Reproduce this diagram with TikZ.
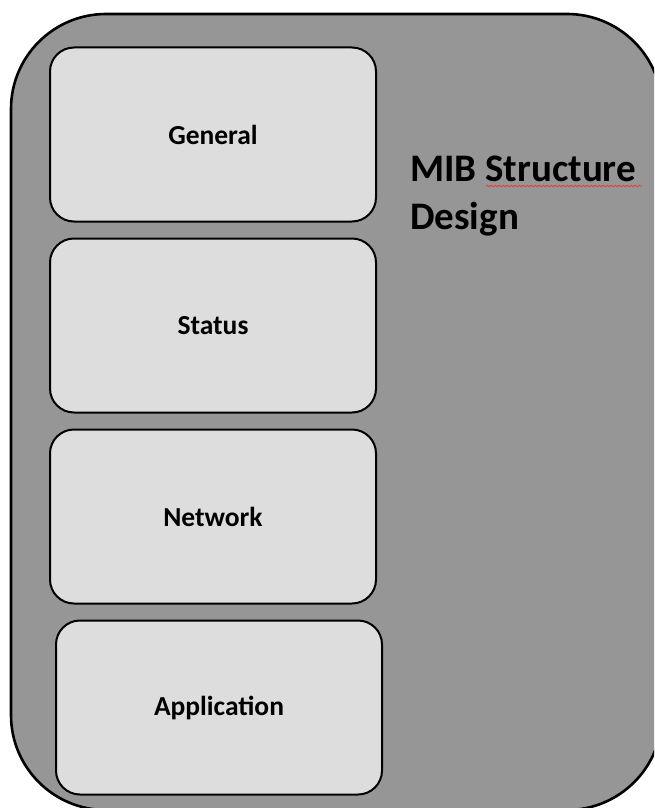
\documentclass[tikz,border=0pt]{standalone}
\usepackage{fontspec}
\setmainfont{Carlito}
\usetikzlibrary{decorations.pathmorphing}
\definecolor{outerfill}{HTML}{969696}
\definecolor{innerfill}{HTML}{DDDDDD}
\definecolor{squig}{HTML}{E04040}
\tikzset{
  outerbox/.style={draw=black, line width=2.6pt, fill=outerfill, rounded corners=95pt},
  layerbox/.style={draw=black, line width=2pt, fill=innerfill, rounded corners=24pt,
    minimum width=326pt, minimum height=174pt, inner sep=0pt,
    font=\fontsize{27.5}{32}\selectfont\bfseries},
  titletext/.style={font=\fontsize{39}{48}\selectfont\bfseries, anchor=base west, inner sep=0pt}
}
\begin{document}
\begin{tikzpicture}[x=1pt,y=-1pt]
\useasboundingbox (0,0) rectangle (654,808);
\clip (0,0) rectangle (654,808);
\draw[outerbox] (11,14) rectangle (662,810);
\node[layerbox] (general) at (213,134.5) {General};
\node[layerbox] (status) at (213,325.5) {Status};
\node[layerbox] (network) at (213,516.5) {Network};
\node[layerbox] (application) at (219,707.5) {Application};
\node[titletext] (title1) at (410,181) {MIB Structure};
\node[titletext] (title2) at (410,229) {Design};
\coordinate (sqa) at (486,186);
\coordinate (sqb) at (642,186);
\draw[squig, line width=0.8pt, decorate, decoration={snake, amplitude=0.9pt, segment length=4pt}] (sqa) -- (sqb);
\end{tikzpicture}
\end{document}
